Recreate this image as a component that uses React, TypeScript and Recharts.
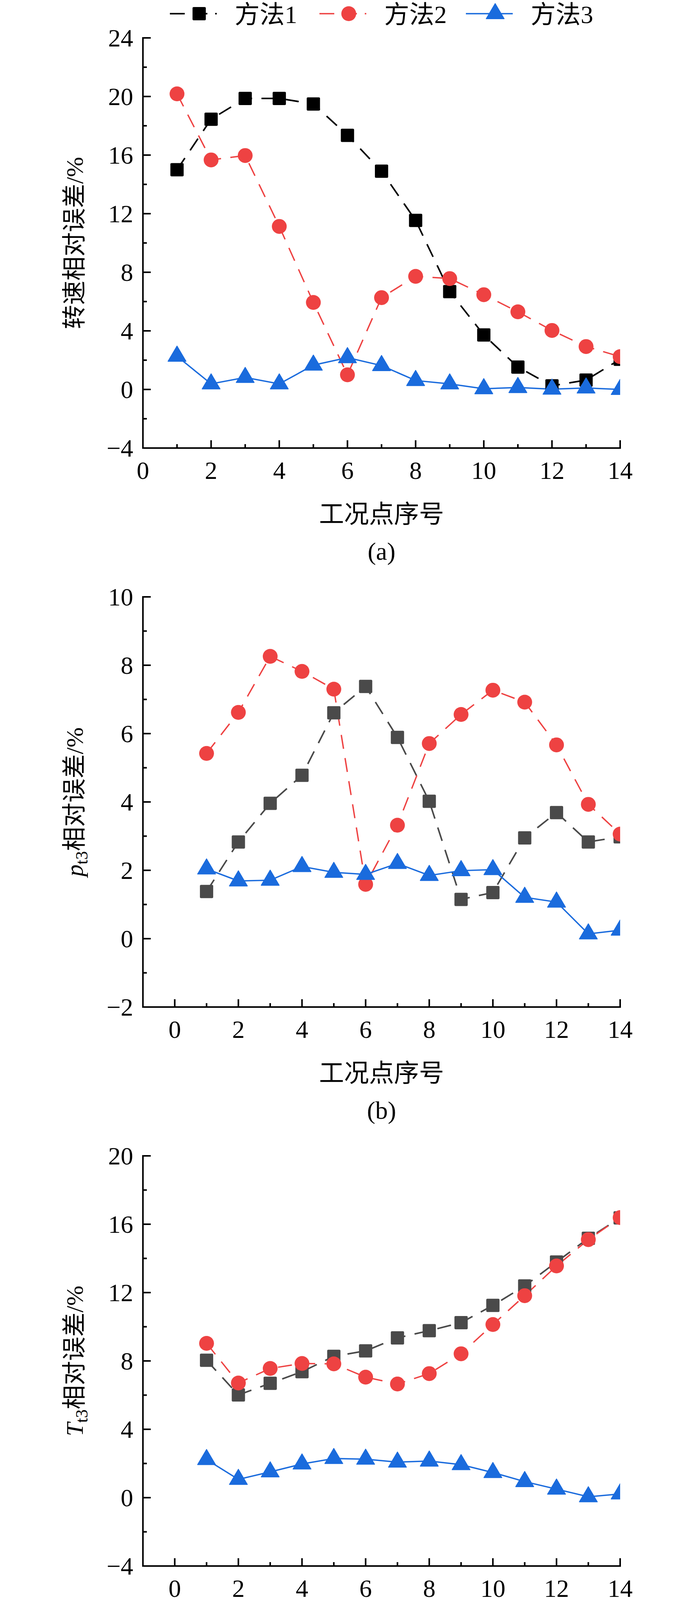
import type { ReactNode } from "react";
import { Line, LineChart, XAxis, YAxis } from "recharts";

const points = [1, 2, 3, 4, 5, 6, 7, 8, 9, 10, 11, 12, 13, 14];

const speedM1 = [15.0, 18.45, 19.87, 19.87, 19.49, 17.35, 14.9, 11.54, 6.68, 3.72, 1.53, 0.25, 0.64, 2.06];
const speedM2 = [20.18, 15.67, 15.97, 11.13, 5.94, 1.0, 6.27, 7.72, 7.57, 6.47, 5.3, 4.03, 2.93, 2.24];
const speedM3 = [2.27, 0.38, 0.82, 0.38, 1.66, 2.17, 1.63, 0.61, 0.38, 0.05, 0.13, 0.02, 0.1, 0.0];

const pt3M1 = [1.38, 2.83, 3.96, 4.78, 6.61, 7.38, 5.89, 4.02, 1.15, 1.35, 2.95, 3.69, 2.83, 2.98];
const pt3M2 = [5.42, 6.62, 8.26, 7.82, 7.3, 1.59, 3.32, 5.71, 6.56, 7.27, 6.92, 5.67, 3.93, 3.06];
const pt3M3 = [2.04, 1.69, 1.71, 2.11, 1.94, 1.88, 2.2, 1.85, 1.99, 2.02, 1.21, 1.07, 0.14, 0.25];

const tt3M1 = [8.04, 6.01, 6.69, 7.37, 8.27, 8.59, 9.35, 9.77, 10.24, 11.25, 12.39, 13.79, 15.18, 16.37];
const tt3M2 = [9.03, 6.71, 7.56, 7.85, 7.83, 7.05, 6.65, 7.26, 8.42, 10.13, 11.82, 13.56, 15.1, 16.39];
const tt3M3 = [2.23, 1.07, 1.51, 1.97, 2.29, 2.25, 2.08, 2.14, 1.93, 1.47, 0.94, 0.5, 0.05, 0.22];

const pt7M1 = [0.29, 1.47, 2.01, 2.56, 3.24, 3.01, 3.72, 3.24, 2.12, 0.78, 0.59, 2.06, 2.89, 4.53];
const pt7M2 = [17.07, 1.94, 2.57, 2.91, 3.15, 2.1, 0.29, 0.2, 0.92, 1.9, 2.61, 3.21, 3.63, 4.65];
const pt7M3 = [0.57, 0.98, 1.15, 1.33, 1.47, 1.58, 1.56, 1.52, 1.24, 0.89, 1.1, 0.66, 0.71, 0.17];

const tt7M1 = [1.75, 3.19, 4.35, 3.57, 1.73, 2.84, 0.38, 0.0, 0.09, 0.32, 0.66, 1.25, 2.48, 4.59];
const tt7M2 = [15.9, 8.47, 5.66, 1.17, 4.28, 8.84, 7.66, 7.21, 5.48, 3.72, 2.02, 0.18, 1.69, 4.57];
const tt7M3 = [1.14, 1.71, 0.0, 0.31, 0.8, 1.23, 1.23, 1.27, 1.41, 1.14, 0.86, 0.95, 0.71, 0.27];

const xTicksAll = [0, 1, 2, 3, 4, 5, 6, 7, 8, 9, 10, 11, 12, 13, 14];
const yTicksA = [-4, -2, 0, 2, 4, 6, 8, 10, 12, 14, 16, 18, 20, 22, 24];
const yTicksB = [-2, -1, 0, 1, 2, 3, 4, 5, 6, 7, 8, 9, 10];
const yTicksC = [-4, -2, 0, 2, 4, 6, 8, 10, 12, 14, 16, 18, 20];
const yTicksD = [-2, -1, 0, 1, 2, 3, 4, 5, 6, 7, 8, 9, 10, 11, 12, 13, 14, 15, 16, 17, 18];
const yTicksE = [-3, -1.5, 0, 1.5, 3, 4.5, 6, 7.5, 9, 10.5, 12, 13.5, 15, 16.5, 18];

const seriesNames = ["方法1", "方法2", "方法3"];
const xTitle = "工况点序号";

const RED = "#EE4242";
const BLUE = "#1A6BDD";
const GRAY = "#4A4A4A";
const FONT = "'Liberation Serif', 'Times New Roman', 'Noto Sans CJK SC', serif";

const W = 1772;
const H = 1431;
const PLOT_TOP = 97;
const PLOT_LEFT = 366;
const PLOT_RIGHT = 1588;
const PLOT_H = 1050;
const AXIS_Y = PLOT_TOP + PLOT_H;

type Kind = "square" | "circle" | "triangle";

function Marker({ kind, cx, cy, color }: { kind: Kind; cx: number; cy: number; color: string }) {
  if (kind === "square") return <rect x={cx - 17} y={cy - 17} width={34} height={34} rx={3} fill={color} />;
  if (kind === "circle") return <circle cx={cx} cy={cy} r={19} fill={color} />;
  return (
    <path
      d={`M${cx},${cy - 26} L${cx + 23},${cy + 13} L${cx - 23},${cy + 13} Z`}
      fill={color}
      stroke={color}
      strokeWidth={2}
      strokeLinejoin="round"
    />
  );
}

const fmt = (v: number) => (v < 0 ? `\u2212${Math.abs(v)}` : `${v}`);
const isMajor = (v: number, step: number) => Math.abs(Math.round(v / step) * step - v) < 1e-6;

type PanelProps = {
  m1: number[];
  m2: number[];
  m3: number[];
  xDomain: [number, number];
  yTicks: number[];
  yStep: number;
  squareColor: string;
  yLabel: ReactNode;
  tag: string;
  legend?: boolean;
};

function Panel({ m1, m2, m3, xDomain, yTicks, yStep, squareColor, yLabel, tag, legend }: PanelProps) {
  const rows = points.map((x, i) => ({ x, m1: m1[i], m2: m2[i], m3: m3[i] }));

  const xTick = (props: any) => {
    const { x, y, payload } = props;
    const major = isMajor(payload.value, 2);
    return (
      <g>
        <line x1={x} x2={x} y1={y} y2={y - (major ? 20 : 10)} stroke="#000" strokeWidth={4} />
        {major && (
          <text x={x} y={y + 79} textAnchor="middle" fontSize={64} fontFamily={FONT} fill="#000">
            {payload.value}
          </text>
        )}
      </g>
    );
  };

  const yTick = (props: any) => {
    const { x, y, payload } = props;
    const major = isMajor(payload.value, yStep);
    return (
      <g>
        <line x1={x} x2={x + (major ? 20 : 10)} y1={y} y2={y} stroke="#000" strokeWidth={4} />
        {major && (
          <text x={x - 25} y={y} dy="0.34em" textAnchor="end" fontSize={64} fontFamily={FONT} fill="#000">
            {fmt(payload.value)}
          </text>
        )}
      </g>
    );
  };

  const dotOf = (kind: Kind, color: string) => (p: any) => (
    <Marker key={`${kind}-${p.index}`} kind={kind} cx={p.cx} cy={p.cy} color={color} />
  );

  const cx = (PLOT_LEFT + PLOT_RIGHT) / 2;
  const cy = PLOT_TOP + PLOT_H / 2;
  const legendStarts = [435, 818, 1193];
  const legendKinds: Kind[] = ["square", "circle", "triangle"];
  const legendColors = [squareColor, RED, BLUE];

  return (
    <div style={{ position: "relative", width: W, height: H }}>
      <LineChart
        width={W}
        height={H}
        data={rows}
        margin={{ top: PLOT_TOP, right: W - PLOT_RIGHT, bottom: H - PLOT_TOP - PLOT_H - 100, left: 0 }}
      >
        <XAxis
          type="number"
          dataKey="x"
          domain={xDomain}
          ticks={xTicksAll}
          interval={0}
          height={100}
          tickSize={0}
          tickMargin={0}
          tickLine={false}
          tick={xTick}
          axisLine={{ stroke: "#000", strokeWidth: 4, strokeLinecap: "square" }}
          allowDataOverflow
        />
        <YAxis
          type="number"
          domain={[yTicks[0], yTicks[yTicks.length - 1]]}
          ticks={yTicks}
          interval={0}
          width={PLOT_LEFT}
          tickSize={0}
          tickMargin={0}
          tickLine={false}
          tick={yTick}
          axisLine={{ stroke: "#000", strokeWidth: 4, strokeLinecap: "square" }}
          allowDataOverflow
        />
        <Line
          type="linear"
          dataKey="m1"
          stroke={squareColor}
          strokeWidth={4}
          strokeDasharray="36 24"
          dot={dotOf("square", squareColor)}
          activeDot={false}
          isAnimationActive={false}
        />
        <Line
          type="linear"
          dataKey="m2"
          stroke={RED}
          strokeWidth={3.5}
          strokeDasharray="36 24"
          dot={dotOf("circle", RED)}
          activeDot={false}
          isAnimationActive={false}
        />
        <Line
          type="linear"
          dataKey="m3"
          stroke={BLUE}
          strokeWidth={3.5}
          dot={dotOf("triangle", BLUE)}
          activeDot={false}
          isAnimationActive={false}
        />
      </LineChart>
      <svg
        width={W}
        height={H + 30}
        style={{ position: "absolute", left: 0, top: 0, pointerEvents: "none", overflow: "visible", zIndex: 1 }}
        fontFamily={FONT}
      >
        <text transform={`translate(212, ${cy}) rotate(-90)`} textAnchor="middle" fontSize={62} fill="#000">
          {yLabel}
        </text>
        <text x={cx} y={AXIS_Y + 191} textAnchor="middle" fontSize={64} fill="#000">
          {xTitle}
        </text>
        <text x={cx} y={AXIS_Y + 286} textAnchor="middle" fontSize={64} fill="#000">
          {tag}
        </text>
        {legend &&
          legendStarts.map((s, i) => (
            <g key={seriesNames[i]}>
              <line
                x1={s}
                x2={s + 120}
                y1={35}
                y2={35}
                stroke={legendColors[i]}
                strokeWidth={i === 0 ? 4 : 3.5}
                strokeDasharray={i === 2 ? undefined : "38 20"}
              />
              <Marker kind={legendKinds[i]} cx={s + 75} cy={35} color={legendColors[i]} />
              <text x={s + 166} y={59} fontSize={64} fill="#000">
                {seriesNames[i]}
              </text>
            </g>
          ))}
      </svg>
    </div>
  );
}

const subLabel = (sym: string, sub: string) => (
  <>
    <tspan fontStyle="italic">{sym}</tspan>
    <tspan fontSize={44} dy={12}>
      {sub}
    </tspan>
    <tspan dy={-12}>相对误差/%</tspan>
  </>
);

export default function App() {
  return (
    <div style={{ position: "absolute", left: 0, top: 0, width: W, background: "#fff" }}>
      <Panel
        m1={speedM1}
        m2={speedM2}
        m3={speedM3}
        xDomain={[0, 14]}
        yTicks={yTicksA}
        yStep={4}
        squareColor="#000000"
        yLabel={<tspan>转速相对误差/%</tspan>}
        tag="(a)"
        legend
      />
      <Panel
        m1={pt3M1}
        m2={pt3M2}
        m3={pt3M3}
        xDomain={[-1, 14]}
        yTicks={yTicksB}
        yStep={2}
        squareColor={GRAY}
        yLabel={subLabel("p", "t3")}
        tag="(b)"
      />
      <Panel
        m1={tt3M1}
        m2={tt3M2}
        m3={tt3M3}
        xDomain={[-1, 14]}
        yTicks={yTicksC}
        yStep={4}
        squareColor={GRAY}
        yLabel={subLabel("T", "t3")}
        tag="(c)"
      />
      <Panel
        m1={pt7M1}
        m2={pt7M2}
        m3={pt7M3}
        xDomain={[-1, 14]}
        yTicks={yTicksD}
        yStep={2}
        squareColor={GRAY}
        yLabel={subLabel("p", "t7")}
        tag="(d)"
      />
      <Panel
        m1={tt7M1}
        m2={tt7M2}
        m3={tt7M3}
        xDomain={[-1, 14]}
        yTicks={yTicksE}
        yStep={3}
        squareColor={GRAY}
        yLabel={subLabel("T", "t7")}
        tag="(e)"
      />
    </div>
  );
}
